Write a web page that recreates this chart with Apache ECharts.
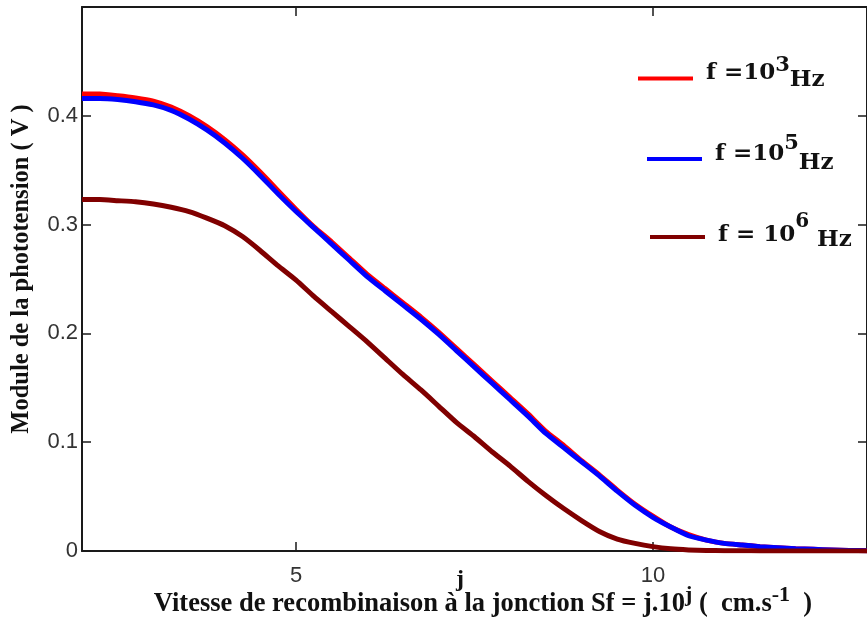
<!DOCTYPE html>
<html>
<head>
<meta charset="utf-8">
<script src="https://cdn.jsdelivr.net/npm/echarts@6/dist/echarts.min.js"></script>
<style>
  html, body { margin: 0; padding: 0; background: #ffffff; }
  #chart { width: 867px; height: 623px; }
</style>
</head>
<body>
<div id="chart"></div>
<script>
// Junction recombination velocity index j (Sf = j.10^j cm/s)
const jValues = [
  2.00, 2.25, 2.50, 2.75, 3.00, 3.25, 3.50, 3.75, 4.00, 4.25, 4.50, 4.75,
  5.00, 5.25, 5.50, 5.75, 6.00, 6.25, 6.50, 6.75, 7.00, 7.25, 7.50, 7.75,
  8.00, 8.25, 8.50, 8.75, 9.00, 9.25, 9.50, 9.75, 10.00, 10.25, 10.50, 10.75,
  11.00, 11.25, 11.50, 11.75, 12.00, 12.25, 12.50, 12.75, 13.00
];

// Photovoltage modulus (V) for f = 10^3 Hz
const voltF3 = [
  0.420, 0.420, 0.4185, 0.4165, 0.4135, 0.408, 0.400, 0.390, 0.378, 0.364, 0.348, 0.331,
  0.314, 0.298, 0.284, 0.269, 0.254, 0.241, 0.228, 0.215, 0.201, 0.186, 0.171, 0.156,
  0.141, 0.126, 0.110, 0.097, 0.083, 0.070, 0.056, 0.043, 0.032, 0.022, 0.015, 0.010,
  0.007, 0.0055, 0.004, 0.003, 0.002, 0.0015, 0.001, 0.0005, 0.0003
];

// Photovoltage modulus (V) for f = 10^5 Hz
const voltF5 = [
  0.416, 0.416, 0.415, 0.413, 0.410, 0.405, 0.397, 0.387, 0.375, 0.361, 0.345, 0.328,
  0.312, 0.297, 0.282, 0.267, 0.252, 0.239, 0.226, 0.213, 0.199, 0.184, 0.169, 0.154,
  0.139, 0.124, 0.108, 0.095, 0.082, 0.069, 0.055, 0.042, 0.031, 0.022, 0.014, 0.010,
  0.007, 0.0055, 0.004, 0.003, 0.002, 0.0015, 0.001, 0.0005, 0.0003
];

// Photovoltage modulus (V) for f = 10^6 Hz
const voltF6 = [
  0.323, 0.323, 0.322, 0.321, 0.319, 0.316, 0.312, 0.306, 0.299, 0.289, 0.276, 0.262,
  0.249, 0.234, 0.220, 0.206, 0.192, 0.177, 0.162, 0.148, 0.133, 0.118, 0.105, 0.091,
  0.078, 0.064, 0.051, 0.039, 0.028, 0.018, 0.011, 0.007, 0.004, 0.002, 0.001, 0.0005,
  0.0003, 0.0002, 0.0001, 0.0001, 0.0001, 0.0001, 0.0001, 0.0001, 0.0001
];

// Legend captions (rich-text markup; s, u, t are raised superscripts)
const seriesNames = ['f =10{s|3}{b|Hz}', 'f =10{u|5}{b|Hz}', '{r|f = 10}{t|6} {b|Hz}'];
const seriesColors = ['#ff0000', '#0000ff', '#800000'];
const seriesValues = [voltF3, voltF5, voltF6];

const xTickValues = [5, 10];
const xTickLabels = ['5', '10'];
const yTickLabels = ['0', '0.1', '0.2', '0.3', '0.4'];

const serifBold = '"Liberation Serif", "Times New Roman", serif';
const wideSerif = '"DejaVu Serif", serif';
const tickFont = '"Liberation Sans", Arial, sans-serif';
const ink = '#1a1a1a';

const chart = echarts.init(document.getElementById('chart'), null, { renderer: 'canvas' });

function pairs(ys) {
  return jValues.map((x, i) => [x, ys[i]]);
}

const legendSpots = [
  { left: 638, top: 55 },
  { left: 647, top: 133 },
  { left: 650, top: 212 }
];

const legendFont = { fontFamily: wideSerif, fontWeight: 'bold', fontSize: 23, color: '#111' };
const legendRich = {
  b: Object.assign({ verticalAlign: 'bottom' }, legendFont),
  r: Object.assign({ verticalAlign: 'bottom', padding: [0, 0, 5, 0] }, legendFont),
  s: Object.assign({ verticalAlign: 'bottom', padding: [0, 0, 16, 0] }, legendFont, { fontSize: 21 }),
  u: Object.assign({ verticalAlign: 'bottom', padding: [0, 0, 21, 0] }, legendFont, { fontSize: 21 }),
  t: Object.assign({ verticalAlign: 'bottom', padding: [0, 0, 20, 0] }, legendFont, { fontSize: 20 })
};

const option = {
  backgroundColor: '#ffffff',
  animation: false,
  grid: { left: 82, top: 7, width: 793, height: 544, containLabel: false },
  legend: seriesNames.map((name, i) => ({
    data: [name],
    left: legendSpots[i].left,
    top: legendSpots[i].top,
    orient: 'vertical',
    icon: 'rect',
    itemWidth: 55,
    itemHeight: 4,
    selectedMode: false,
    padding: 0,
    textStyle: Object.assign({ padding: [0, 0, 10, 8], rich: legendRich }, legendFont)
  })),
  xAxis: [
    {
      type: 'value', position: 'bottom', min: 2, max: 13,
      axisLine: { show: true, onZero: false, lineStyle: { color: ink, width: 2 } },
      axisTick: { show: true, inside: true, length: 9, customValues: xTickValues, lineStyle: { color: ink, width: 1.5 } },
      axisLabel: {
        show: true, customValues: xTickValues, margin: 14,
        formatter: v => xTickLabels[xTickValues.indexOf(v)] || '',
        fontFamily: tickFont, fontSize: 22, color: '#333'
      },
      splitLine: { show: false }
    },
    {
      type: 'value', position: 'top', min: 2, max: 13,
      axisLine: { show: true, onZero: false, lineStyle: { color: ink, width: 2 } },
      axisTick: { show: true, inside: true, length: 9, customValues: xTickValues, lineStyle: { color: ink, width: 1.5 } },
      axisLabel: { show: false },
      splitLine: { show: false }
    }
  ],
  yAxis: [
    {
      type: 'value', position: 'left', min: 0, max: 0.5, interval: 0.1,
      axisLine: { show: true, onZero: false, lineStyle: { color: ink, width: 2 } },
      axisTick: { show: true, inside: true, length: 9, lineStyle: { color: ink, width: 1.5 } },
      axisLabel: {
        margin: 4,
        formatter: (v) => { const k = Math.round(v * 10); return yTickLabels[k] || ''; },
        fontFamily: tickFont, fontSize: 22, color: '#333'
      },
      splitLine: { show: false }
    },
    {
      type: 'value', position: 'right', min: 0, max: 0.5, interval: 0.1,
      axisLine: { show: true, onZero: false, lineStyle: { color: ink, width: 2 } },
      axisTick: { show: true, inside: true, length: 9, lineStyle: { color: ink, width: 1.5 } },
      axisLabel: { show: false },
      splitLine: { show: false }
    }
  ],
  series: seriesNames.map((name, i) => ({
    name: name,
    type: 'line',
    xAxisIndex: 0,
    yAxisIndex: 0,
    data: pairs(seriesValues[i]),
    showSymbol: false,
    smooth: 0.15,
    color: seriesColors[i],
    lineStyle: { color: seriesColors[i], width: 5, join: 'round' },
    z: 2 + i
  })),
  graphic: [
    {
      type: 'text', x: 22, y: 269, rotation: Math.PI / 2,
      style: {
        text: 'Module de la phototension ( V )',
        fontFamily: serifBold, fontWeight: 'bold', fontSize: 24.5,
        fill: '#111', align: 'center', verticalAlign: 'middle'
      }
    },
    {
      type: 'text', x: 460, y: 580,
      style: {
        text: 'j', fontFamily: serifBold, fontWeight: 'bold', fontSize: 24,
        fill: '#111', align: 'center', verticalAlign: 'middle'
      }
    },
    {
      type: 'text', x: 483, y: 618,
      style: {
        text: '{b|Vitesse de recombinaison à la jonction Sf = j.10}{s|j}{b| (  cm.s}{s|-1}{b|  )}',
        fontFamily: serifBold, fontWeight: 'bold', fontSize: 26.5, fill: '#111',
        align: 'center', verticalAlign: 'bottom',
        rich: {
          b: { fontFamily: serifBold, fontWeight: 'bold', fontSize: 26.5, fill: '#111', verticalAlign: 'bottom' },
          s: { fontFamily: serifBold, fontWeight: 'bold', fontSize: 22, fill: '#111', verticalAlign: 'bottom', padding: [0, 0, 12, 0] }
        }
      }
    }
  ]
};

chart.setOption(option);
</script>
</body>
</html>
